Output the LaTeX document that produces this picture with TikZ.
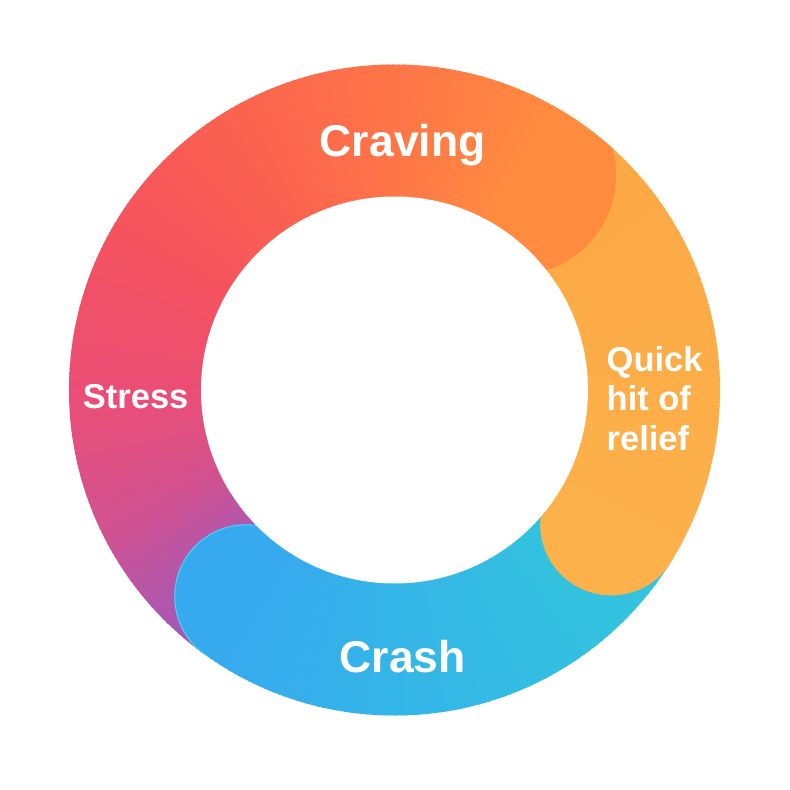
\documentclass[tikz,border=0pt]{standalone}
\usepackage{fontspec}
\setmainfont{Liberation Sans}
\definecolor{rA}{HTML}{FF8B3F}
\definecolor{rB}{HTML}{FF7947}
\definecolor{rC}{HTML}{FB624F}
\definecolor{rD}{HTML}{F4535E}
\definecolor{rE}{HTML}{EB4E75}
\definecolor{rF}{HTML}{D3528F}
\definecolor{rG}{HTML}{9B5AC0}
\definecolor{yA}{HTML}{FDB14A}
\definecolor{yB}{HTML}{FDA845}
\definecolor{bA}{HTML}{37A9EE}
\definecolor{bB}{HTML}{34B5E8}
\definecolor{bC}{HTML}{33C6DD}
\definecolor{rimBlue}{HTML}{4FD6F4}
\newcommand\gradarc[4]{%
  \pgfmathtruncatemacro\gsteps{ceil(abs(#2-#1))}%
  \foreach \k in {1,...,\gsteps}{%
    \pgfmathsetmacro\angA{#1+(#2-#1)*(\k-1)/\gsteps}%
    \pgfmathsetmacro\angB{#1+(#2-#1)*\k/\gsteps+0.4}%
    \pgfmathsetmacro\pct{100*(\k-0.5)/\gsteps}%
    \fill[#4!\pct!#3] (0,0) -- (\angA:360pt) -- (\angB:360pt) -- cycle;%
  }%
}
\begin{document}
\begin{tikzpicture}[x=1pt,y=1pt,
  lbl/.style={text=white, inner sep=0pt},
  big/.style={lbl, font=\bfseries\fontsize{44.5}{50}\selectfont},
  small/.style={lbl, font=\bfseries\fontsize{34.5}{39.5}\selectfont}]
\fill[white] (-394.5,-400) rectangle (395.5,390);
\useasboundingbox (-394.5,-400) rectangle (395.5,390);
\begin{scope}
  \clip (0,0) circle[radius=325.5pt];
  % bodies
  \gradarc{60.5}{85}{rA}{rB}
  \gradarc{85}{120}{rB}{rC}
  \gradarc{120}{150}{rC}{rD}
  \gradarc{150}{180}{rD}{rE}
  \gradarc{180}{205}{rE}{rF}
  \gradarc{205}{234.3}{rF}{rG}
  \gradarc{-31.8}{60.5}{yA}{yB}
  \gradarc{-125.7}{-90}{bA}{bB}
  \gradarc{-90}{-31.8}{bB}{bC}
  % caps
  \begin{scope}
    \clip (0,0) -- (61:600pt) -- (0:600pt) -- cycle;
    \fill[rA] (60.5:247pt) circle[radius=100pt];
  \end{scope}
  \begin{scope}
    \clip (0,0) -- (-31.3:600pt) -- (-92:600pt) -- cycle;
    \fill[yA] (-31.8:255pt) circle[radius=71pt];
  \end{scope}
  \begin{scope}
    \clip (0,0) -- (234.8:600pt) -- (174:600pt) -- cycle;
    \fill[bA] (234.3:254pt) circle[radius=72pt];
    \draw[rimBlue, line width=0.9pt] (234.3:254pt) circle[radius=71.5pt];
  \end{scope}
\end{scope}
\fill[white] (0,0) circle[radius=193.5pt];
\node[big, anchor=base] (craving) at (8.2,233.5) {Craving};
\node[big, anchor=base] (crash) at (8.3,-282) {Crash};
\node[small, anchor=base] (stress) at (-258.8,-18) {Stress};
\node[small, anchor=base west, align=left] (relief) at (212,-60) {Quick\\hit of\\relief};
\end{tikzpicture}
\end{document}
